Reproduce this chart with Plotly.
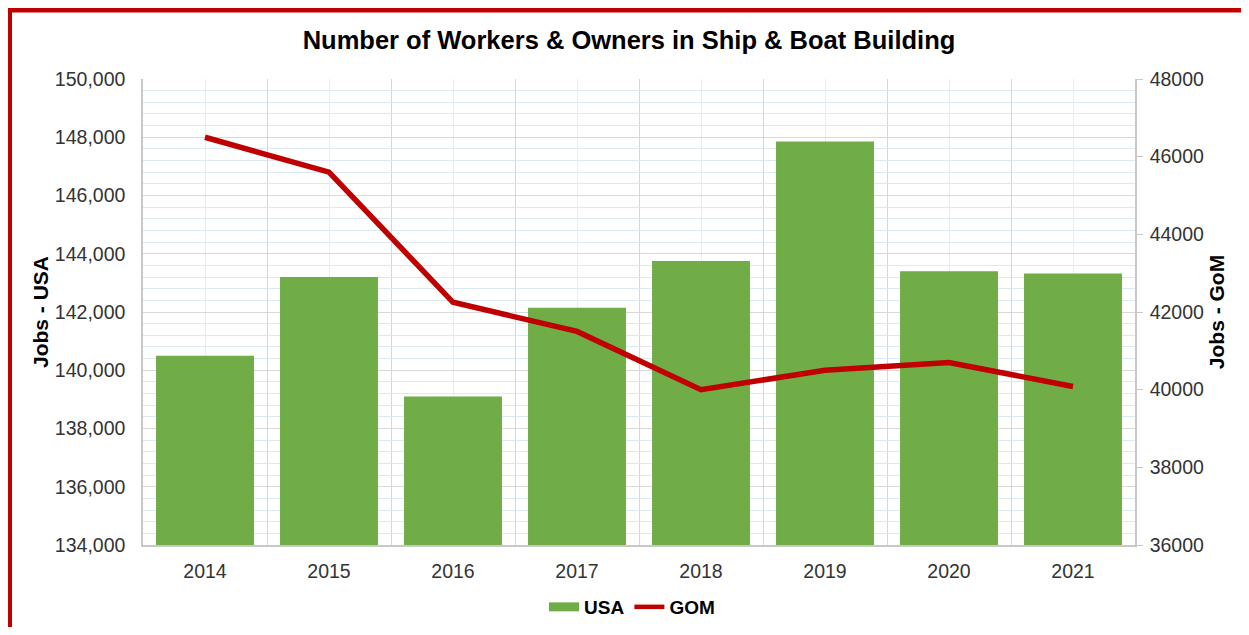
import plotly.graph_objects as go

years = [2014, 2015, 2016, 2017, 2018, 2019, 2020, 2021]
usa_jobs = [140500, 143200, 139100, 142150, 143750, 147850, 143400, 143320]
gom_jobs = [46500, 45600, 42250, 41500, 40000, 40500, 40700, 40080]

# the page puts the figure 8px in from the top-left corner
OFF = 8
W, H = 1249 - 2 * OFF, 635 - 2 * OFF
L, R, T, B = 143 - OFF, 1249 - OFF - 1135, 79 - OFF, 635 - OFF - 545


def px(x):
    return (x - OFF - L) / (W - L - R)


def py(y):
    return (H - B - (y - OFF)) / (H - T - B)


font = 'Liberation Sans, Arial, sans-serif'
green = '#70AD47'
red = '#C00000'

fig = go.Figure()

fig.add_trace(go.Bar(x=years, y=usa_jobs, name='USA', marker=dict(color=green, line=dict(width=0)),
                     width=0.79, showlegend=False))

fig.add_trace(go.Scatter(x=years, y=gom_jobs, mode='lines', name='GOM', yaxis='y2',
                         line=dict(color=red, width=5.5), showlegend=False))

# legend entries (wide swatches like the original)
fig.add_trace(go.Scatter(x=[None], y=[None], mode='lines', name='<b>USA</b>',
                         line=dict(color=green, width=9)))
fig.add_trace(go.Scatter(x=[None], y=[None], mode='lines', name='<b>GOM</b>',
                         line=dict(color=red, width=4.5)))

# chart border: thick dark red on left and top
fig.add_shape(type='line', xref='paper', yref='paper', x0=px(9), x1=px(9), y0=py(7), y1=py(640),
              line=dict(color=red, width=6))
fig.add_shape(type='line', xref='paper', yref='paper', x0=px(6), x1=px(1260), y0=py(10), y1=py(10),
              line=dict(color=red, width=5))

fig.update_layout(
    width=W, height=H,
    margin=dict(l=L, r=R, t=T, b=B, autoexpand=False),
    paper_bgcolor='white',
    plot_bgcolor='white',
    title=dict(text='<b>Number of Workers & Owners in Ship & Boat Building</b>',
               x=px(629), xanchor='center', xref='paper', y=1 - (40 - OFF) / H, yanchor='middle',
               font=dict(family=font, size=25.5, color='#000000')),
    font=dict(family=font, size=19.5, color='#333333'),
    showlegend=True,
    legend=dict(orientation='h', x=(632 - OFF) / W, xanchor='center', xref='container',
                y=1 - (607 - OFF) / H, yanchor='middle', yref='container',
                font=dict(family=font, size=19, color='#000000'), traceorder='normal',
                bgcolor='rgba(0,0,0,0)', itemclick=False),
    xaxis=dict(
        range=[years[0] - 0.5, years[-1] + 0.5],
        tickvals=years, ticktext=[str(y) for y in years],
        showgrid=True, gridcolor='#ececec', gridwidth=1,
        minor=dict(tickvals=[y - 0.5 for y in years] + [years[-1] + 0.5],
                   showgrid=True, gridcolor='#d6d6d6', gridwidth=1),
        showline=True, linecolor='#c8c8c8', linewidth=1.5,
        ticks='', zeroline=False,
        tickfont=dict(size=19.5, color='#333333'),
        ticklabelstandoff=8,
    ),
    yaxis=dict(
        title=dict(text='<b>Jobs - USA</b>', font=dict(size=21, color='#000000'), standoff=0),
        range=[134000, 150000], dtick=2000, tickformat=',d',
        showgrid=True, gridcolor='#d9d9d9', gridwidth=1.2,
        minor=dict(dtick=400, showgrid=True, gridcolor='#dde8f5', gridwidth=1),
        showline=True, linecolor='#c8c8c8', linewidth=1.5,
        ticks='', zeroline=False,
        tickfont=dict(size=19.5, color='#333333'),
        ticklabelstandoff=12,
    ),
    yaxis2=dict(
        title=dict(text='<b>Jobs - GoM</b>', font=dict(size=21, color='#000000'), standoff=6),
        range=[36000, 48000], dtick=2000, tickformat='d',
        overlaying='y', side='right', showgrid=False,
        showline=True, linecolor='#c8c8c8', linewidth=1.5,
        ticks='outside', ticklen=6, tickcolor='#c8c8c8',
        zeroline=False,
        tickfont=dict(size=19.5, color='#333333'),
        ticklabelstandoff=3,
    ),
)

fig.write_html('out.html')
